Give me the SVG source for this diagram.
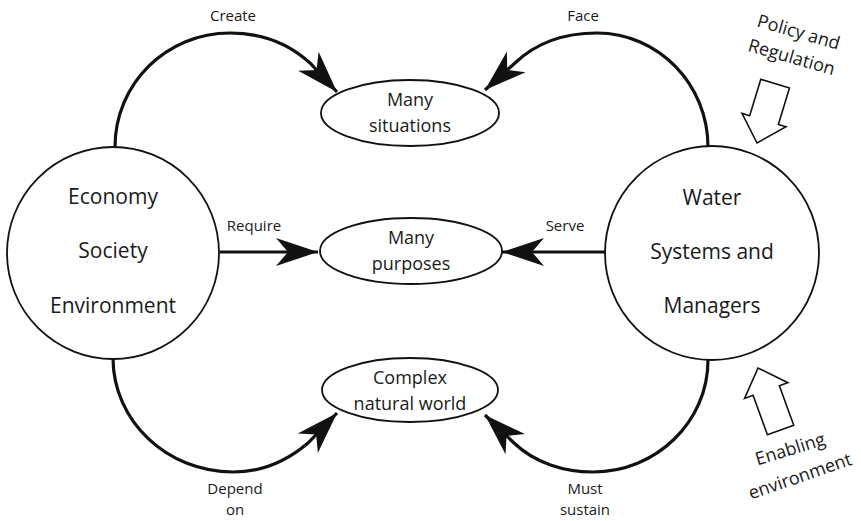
<svg xmlns="http://www.w3.org/2000/svg" width="861" height="521" viewBox="0 0 861 521">
<style>
text{font-family:"Open Sans","Noto Sans","DejaVu Sans",sans-serif;fill:#1a1a1a;text-anchor:middle}
.big{font-size:21px}
.mid{font-size:18px}
.lbl{font-size:15px}
.node{fill:#fff;stroke:#111;stroke-width:1.8}
.conn{fill:none;stroke:#111;stroke-width:3.2;marker-end:url(#ah)}
.hollow{fill:#fff;stroke:#111;stroke-width:1.6;stroke-linejoin:miter}
</style>
<defs>
<marker id="ah" markerUnits="userSpaceOnUse" viewBox="-44 -16 46 32" refX="0" refY="0" markerWidth="46" markerHeight="32" orient="auto">
<path d="M0,0 L-42,-14 L-30,0 L-42,14 Z" fill="#111"/>
</marker>
</defs>
<rect width="861" height="521" fill="#fff"/>
<g id="connectors">
<path class="conn" d="M115,147 C115,84 166,33 230,33 C260,33 288,43 310,63 L337,92"/>
<path class="conn" d="M708,147 C708,84 658,33 597,33 C566,33 537,42 515,63 L485,90"/>
<path class="conn" d="M220,252 L318,252"/>
<path class="conn" d="M606,252 L502,252"/>
<path class="conn" d="M113,358 C113,421 167,472 233,472 C261,472 287,461 308,443 L337,413"/>
<path class="conn" d="M708,360 C708,422 656,472 593,472 C564,472 535,463 514,443 L485,415"/>
<text class="lbl" x="233" y="21">Create</text>
<text class="lbl" x="583" y="21">Face</text>
<text class="lbl" x="254" y="231">Require</text>
<text class="lbl" x="565" y="231">Serve</text>
<text class="lbl" x="235" y="494">Depend</text>
<text class="lbl" x="235" y="515">on</text>
<text class="lbl" x="585" y="494">Must</text>
<text class="lbl" x="585" y="515">sustain</text>
</g>
<g id="economy">
<circle class="node" cx="113" cy="253" r="106"/>
<text class="big" x="113" y="204">Economy</text>
<text class="big" x="113" y="258">Society</text>
<text class="big" x="113" y="313">Environment</text>
</g>
<g id="water">
<circle class="node" cx="712" cy="253" r="107"/>
<text class="big" x="712" y="205">Water</text>
<text class="big" x="712" y="259">Systems and</text>
<text class="big" x="712" y="313">Managers</text>
</g>
<g id="situations">
<ellipse class="node" cx="410" cy="113" rx="89" ry="33"/>
<text class="mid" x="410" y="106">Many</text>
<text class="mid" x="410" y="132">situations</text>
</g>
<g id="purposes">
<ellipse class="node" cx="411" cy="251" rx="91" ry="33"/>
<text class="mid" x="411" y="244">Many</text>
<text class="mid" x="411" y="270">purposes</text>
</g>
<g id="natural">
<ellipse class="node" cx="410" cy="390" rx="88" ry="32"/>
<text class="mid" x="410" y="384">Complex</text>
<text class="mid" x="410" y="410">natural world</text>
</g>
<g id="policy">
<polygon class="hollow" points="0,0 -23,-24 -15,-24 -15,-62 15,-62 15,-24 23,-24" transform="translate(757,143) rotate(17)"/>
<text class="mid" transform="translate(797,38) rotate(16)">Policy and</text>
<text class="mid" transform="translate(790,63) rotate(16)">Regulation</text>
</g>
<g id="enabling">
<polygon class="hollow" points="0,0 -23,24 -14,24 -14,66 14,66 14,24 23,24" transform="translate(758,368) rotate(-20)"/>
<text class="mid" transform="translate(792,455) rotate(-17)">Enabling</text>
<text class="mid" transform="translate(802,482) rotate(-19)">environment</text>
</g>
</svg>
